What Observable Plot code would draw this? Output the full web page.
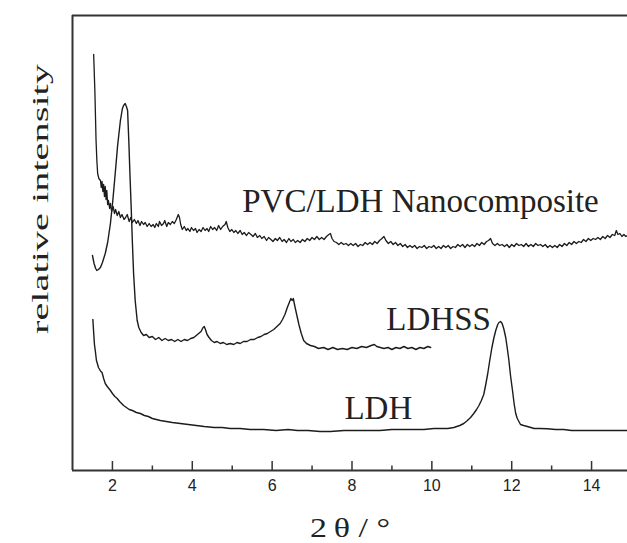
<!DOCTYPE html>
<html>
<head>
<meta charset="utf-8">
<script src="https://cdn.jsdelivr.net/npm/d3@7"></script>
<script src="https://cdn.jsdelivr.net/npm/@observablehq/plot@0.6"></script>
<style>
  html, body { margin: 0; padding: 0; background: #fff; }
</style>
</head>
<body>
<div id="chart"></div>
<script>
// 2θ (degrees) vs relative intensity (arbitrary units)
const pvc = [[1.53,416],[1.56,380],[1.59,330],[1.61,310],[1.63,297],[1.66,292],[1.70,290],[1.72,283],[1.74,289],[1.76,279],[1.78,286],[1.80,274],[1.82,284],[1.84,271],[1.86,280],[1.88,266],[1.90,270],[1.93,262],[1.95,267],[1.98,259],[2.02,264],[2.05,257],[2.08,261],[2.12,255],[2.16,259],[2.20,253],[2.24,256],[2.29,251],[2.33,253],[2.37,256],[2.42,249],[2.46,253],[2.50,248],[2.55,251],[2.60,247],[2.64,250],[2.69,245],[2.73,249],[2.78,246],[2.82,248],[2.87,244],[2.92,247],[2.97,244],[3.02,246],[3.06,243],[3.10,247],[3.15,244],[3.18,249],[3.23,245],[3.28,247],[3.31,250],[3.36,244],[3.40,248],[3.45,246],[3.50,249],[3.55,247],[3.60,251],[3.65,256],[3.68,253],[3.71,246],[3.75,241],[3.80,244],[3.85,240],[3.89,242],[3.94,239],[3.98,243],[4.03,240],[4.08,242],[4.12,238],[4.17,241],[4.22,239],[4.27,243],[4.32,240],[4.37,242],[4.41,239],[4.46,244],[4.51,241],[4.56,243],[4.61,240],[4.66,245],[4.71,241],[4.76,244],[4.82,246],[4.85,249],[4.89,243],[4.94,239],[4.99,241],[5.04,238],[5.09,240],[5.14,237],[5.20,240],[5.25,236],[5.30,238],[5.36,235],[5.41,238],[5.47,236],[5.52,234],[5.58,237],[5.63,233],[5.69,235],[5.74,232],[5.80,234],[5.86,230],[5.91,233],[5.97,231],[6.02,229],[6.08,232],[6.13,230],[6.19,233],[6.25,229],[6.30,231],[6.36,228],[6.42,232],[6.47,229],[6.53,231],[6.58,228],[6.64,230],[6.70,228],[6.76,231],[6.82,229],[6.88,232],[6.94,230],[7.00,233],[7.06,231],[7.12,234],[7.18,231],[7.24,233],[7.30,231],[7.36,234],[7.42,236],[7.46,237],[7.50,232],[7.55,229],[7.61,228],[7.67,226],[7.73,228],[7.79,226],[7.85,227],[7.91,225],[7.97,227],[8.03,225],[8.09,227],[8.15,224],[8.21,226],[8.27,225],[8.33,228],[8.39,226],[8.45,228],[8.51,226],[8.57,229],[8.63,227],[8.69,230],[8.75,232],[8.80,234],[8.85,230],[8.91,227],[8.97,229],[9.03,226],[9.09,228],[9.15,225],[9.21,227],[9.27,224],[9.33,226],[9.39,223],[9.45,225],[9.51,223],[9.57,225],[9.63,222],[9.69,224],[9.75,223],[9.81,225],[9.87,222],[9.93,224],[9.99,223],[10.05,225],[10.11,222],[10.17,224],[10.23,222],[10.29,225],[10.35,223],[10.41,225],[10.47,222],[10.53,224],[10.59,223],[10.65,226],[10.71,224],[10.77,226],[10.83,223],[10.89,226],[10.95,224],[11.01,226],[11.07,224],[11.13,227],[11.19,225],[11.25,228],[11.31,226],[11.37,229],[11.42,230],[11.47,232],[11.52,227],[11.58,225],[11.64,227],[11.70,225],[11.76,226],[11.82,224],[11.88,226],[11.94,223],[12.00,226],[12.06,224],[12.12,227],[12.18,225],[12.24,226],[12.30,224],[12.36,227],[12.42,224],[12.48,226],[12.54,224],[12.60,227],[12.66,225],[12.72,226],[12.78,224],[12.84,226],[12.90,223],[12.96,225],[13.02,223],[13.08,225],[13.14,223],[13.20,226],[13.26,224],[13.32,227],[13.38,225],[13.44,228],[13.50,226],[13.56,229],[13.62,227],[13.68,229],[13.74,228],[13.80,231],[13.86,229],[13.92,232],[13.98,230],[14.04,232],[14.10,231],[14.16,233],[14.22,231],[14.28,234],[14.34,232],[14.40,235],[14.46,233],[14.52,236],[14.58,235],[14.62,240],[14.66,236],[14.71,237],[14.76,234],[14.81,236],[14.86,234],[14.90,235]];

const ldhss = [[1.50,215],[1.54,207],[1.58,202],[1.61,200],[1.65,201],[1.70,203],[1.75,208],[1.82,217],[1.88,228],[1.95,247],[2.01,270],[2.07,297],[2.13,325],[2.20,350],[2.25,362],[2.28,365],[2.32,367],[2.35,364],[2.38,360],[2.41,330],[2.44,295],[2.47,263],[2.50,228],[2.53,197],[2.57,170],[2.62,150],[2.66,143],[2.72,138],[2.78,135],[2.85,136],[2.92,133],[3.00,134],[3.08,131],[3.16,133],[3.24,130],[3.32,132],[3.40,130],[3.48,131],[3.56,129],[3.64,131],[3.72,129],[3.80,131],[3.88,130],[3.96,132],[4.04,133],[4.10,135],[4.16,137],[4.22,139],[4.27,143],[4.30,144],[4.33,141],[4.37,136],[4.42,133],[4.48,130],[4.55,128],[4.62,129],[4.70,127],[4.78,128],[4.86,126],[4.95,127],[5.04,126],[5.12,128],[5.20,127],[5.28,129],[5.37,129],[5.46,131],[5.55,131],[5.64,133],[5.72,134],[5.80,136],[5.88,137],[5.96,139],[6.04,141],[6.12,144],[6.20,147],[6.26,151],[6.32,156],[6.38,163],[6.43,168],[6.47,172],[6.50,170],[6.53,172],[6.57,164],[6.62,155],[6.67,146],[6.73,137],[6.79,130],[6.86,127],[6.96,125],[7.06,124],[7.16,122],[7.29,123],[7.40,121],[7.52,123],[7.64,121],[7.76,122],[7.88,121],[8.00,123],[8.12,122],[8.24,124],[8.36,123],[8.48,125],[8.56,126],[8.62,124],[8.71,123],[8.80,122],[8.90,123],[9.00,121],[9.10,123],[9.20,122],[9.30,124],[9.40,122],[9.50,123],[9.60,121],[9.70,123],[9.80,122],[9.90,124],[9.97,123]];

const ldh = [[1.51,151],[1.53,138],[1.55,126],[1.57,120],[1.60,110],[1.63,106],[1.65,103],[1.68,101],[1.71,99],[1.74,98],[1.78,92],[1.82,87],[1.87,84],[1.91,82],[1.95,80],[2.00,77],[2.06,74],[2.12,72],[2.18,69],[2.23,67],[2.28,65],[2.35,63],[2.42,61],[2.50,60],[2.60,58],[2.70,57],[2.80,55],[2.90,54],[3.00,52],[3.10,51],[3.20,50],[3.35,49],[3.50,48],[3.70,47],[3.90,46],[4.10,45],[4.30,44],[4.55,43],[4.75,43],[4.95,42],[5.20,42],[5.45,41],[5.79,41],[6.10,40],[6.40,41],[6.63,40],[6.90,40],[7.20,39],[7.46,39],[7.80,40],[8.10,40],[8.40,40],[8.70,40],[9.00,41],[9.22,41],[9.50,41],[9.80,41],[10.05,42],[10.22,42],[10.40,42],[10.55,43],[10.70,45],[10.80,47],[10.89,50],[10.97,53],[11.05,57],[11.12,61],[11.18,65],[11.24,70],[11.30,76],[11.35,86],[11.40,97],[11.45,110],[11.50,122],[11.55,132],[11.60,140],[11.65,146],[11.68,148],[11.72,149],[11.76,147],[11.80,142],[11.85,133],[11.89,122],[11.93,110],[11.97,95],[12.02,80],[12.06,67],[12.10,57],[12.14,52],[12.18,49],[12.22,46],[12.30,45],[12.39,44],[12.48,43],[12.56,42],[12.70,42],[12.89,41.7],[13.10,41],[13.30,41],[13.50,40],[13.73,40],[14.00,40],[14.25,40],[14.50,40],[14.70,40],[14.90,40]];

const majorTicks = [2, 4, 6, 8, 10, 12, 14];
const minorTicks = [3, 5, 7, 9, 11, 13];

const seriesLabels = [
  {text: "PVC/LDH Nanocomposite", x: 5.25, y: 269},
  {text: "LDHSS", x: 8.86, y: 151},
  {text: "LDH", x: 7.81, y: 62}
];
const xTitle = "2\u2009\u03b8 / \u00b0";
const yTitle = "relative intensity";

const xDomain = [1, 14.9];
const yDomain = [0, 455];

const ink = "#1c1c1c";
const serif = "'Liberation Serif', 'Times New Roman', serif";
const sans = "'Liberation Sans', Arial, sans-serif";

const chart = Plot.plot({
  width: 627,
  height: 543,
  marginLeft: 72,
  marginRight: 0,
  marginTop: 15,
  marginBottom: 73,
  x: {domain: xDomain},
  y: {domain: yDomain},
  style: {fontFamily: sans, fontSize: "16px", color: "#222", background: "#fff"},
  marks: [
    Plot.axisX({ticks: majorTicks, tickSize: 0, tickPadding: 9, tickFormat: d => String(d), label: null, fontSize: 16}),
    Plot.axisY({ticks: [], label: null}),
    Plot.ruleX(majorTicks, {y1: 0, y2: 9, stroke: "#333", strokeWidth: 1.5}),
    Plot.ruleX(minorTicks, {y1: 0, y2: 4.5, stroke: "#333", strokeWidth: 1.5}),
    Plot.line(ldh, {x: d => d[0], y: d => d[1], stroke: ink, strokeWidth: 1.4}),
    Plot.line(ldhss, {x: d => d[0], y: d => d[1], stroke: ink, strokeWidth: 1.4}),
    Plot.line(pvc, {x: d => d[0], y: d => d[1], stroke: ink, strokeWidth: 1.3}),
    Plot.ruleY([0], {stroke: "#333", strokeWidth: 2}),
    Plot.ruleY([455], {stroke: "#333", strokeWidth: 2}),
    Plot.ruleX([1], {stroke: "#333", strokeWidth: 2}),
    Plot.text(seriesLabels, {x: "x", y: "y", text: "text", textAnchor: "start", lineAnchor: "middle", fontFamily: serif, fontSize: 33, fill: "#222"}),
    Plot.text([xTitle], {frameAnchor: "bottom", textAnchor: "middle", dx: 0, dy: 58, lineAnchor: "middle", fontFamily: serif, fontSize: 28, fill: "#222"}),
    Plot.text([yTitle], {frameAnchor: "left", textAnchor: "middle", dx: -32, dy: -44, rotate: -90, lineAnchor: "middle", fontFamily: serif, fontSize: 24, fill: "#222"})
  ]
});

// stretch axis titles to the proportions of the reference; tick label size
const tickStrings = majorTicks.map(String);
d3.select(chart).selectAll("text").each(function() {
  const t = this.textContent;
  if (t === yTitle) d3.select(this).attr("textLength", 270).attr("lengthAdjust", "spacingAndGlyphs");
  if (t === xTitle) d3.select(this).attr("textLength", 80).attr("lengthAdjust", "spacingAndGlyphs");
});
d3.select(chart).selectAll("g").filter(function() {
  return (this.getAttribute("aria-label") || "").includes("tick label");
}).attr("font-size", 16).style("font-size", "16px").selectAll("text").style("font-size", "16px").attr("font-size", 16);

document.getElementById("chart").appendChild(chart);
</script>
</body>
</html>
